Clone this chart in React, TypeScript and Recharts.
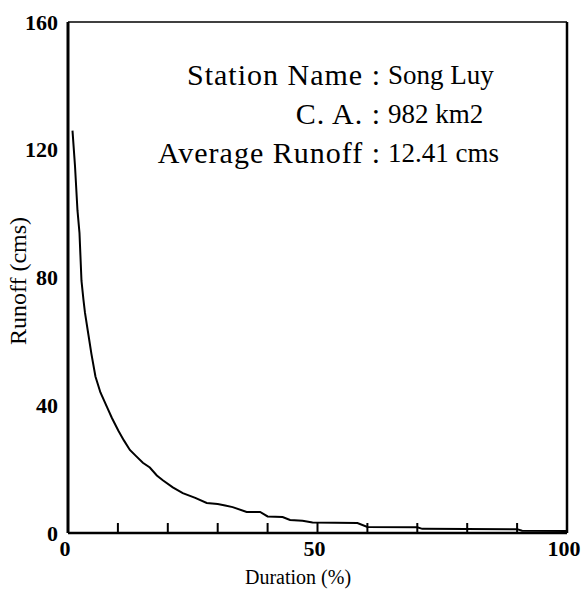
import { LineChart, Line, XAxis, YAxis, ReferenceLine } from "recharts";

// flow duration curve
const durationPct = [
  0.9, 1.4, 1.9, 2.3, 2.7, 3.1, 3.4, 4.1, 4.7, 5.5, 6.5, 7.8, 8.8, 10.1, 11.2, 12.4, 13.7, 15,
  16.4, 17.8, 19, 21, 23, 25.5, 27.8, 30, 31.5, 33, 35.8, 38.5, 40, 43, 44.5, 47, 49, 58, 60, 70,
  71, 90, 91, 100,
];
const runoffCms = [
  126, 115, 101, 94, 79, 73, 69, 62, 56, 49, 44, 39.5, 36, 32, 29, 26, 24, 22, 20.5, 18, 16.5,
  14.3, 12.5, 11, 9.4, 9.1, 8.6, 8.1, 6.6, 6.6, 5.2, 5, 4.1, 3.8, 3.3, 3.1, 1.9, 1.8, 1.3, 1.2,
  0.7, 0.6,
];

const xTicks = [0, 10, 20, 30, 40, 50, 60, 70, 80, 90, 100];
const xTickLabels = [0, 50, 100];
const yTicks = [0, 40, 80, 120, 160];

const infoLabels = ["Station Name :", "C. A. :", "Average Runoff :"];
const infoValues = ["Song Luy", "982 km2", "12.41 cms"];

const FONT = "'Liberation Serif', 'Times New Roman', serif";

function XTick(props: any) {
  const { x, y, payload } = props;
  const v = payload.value;
  return (
    <g>
      {v > 0 && v < 100 && (
        <line x1={x} x2={x} y1={y} y2={y - 10} stroke="#000" strokeWidth={2} />
      )}
      {xTickLabels.includes(v) && (
        <text
          x={x - 3}
          y={y + 15}
          textAnchor="middle"
          dominantBaseline="central"
          fontFamily={FONT}
          fontSize={22}
          fontWeight="bold"
          fill="#000"
        >
          {v}
        </text>
      )}
    </g>
  );
}

function YTick(props: any) {
  const { x, y, payload } = props;
  return (
    <text
      x={x - 10}
      y={y}
      textAnchor="end"
      dominantBaseline="central"
      fontFamily={FONT}
      fontSize={22}
      fontWeight="bold"
      fill="#000"
    >
      {payload.value}
    </text>
  );
}

export default function App() {
  const data = durationPct.map((d, i) => ({ duration: d, runoff: runoffCms[i] }));

  return (
    <div
      style={{
        position: "absolute",
        left: 0,
        top: 0,
        width: 585,
        height: 594,
        background: "#fff",
        fontFamily: FONT,
        color: "#000",
      }}
    >
      <LineChart width={585} height={594} data={data} margin={{ top: 22, right: 18, bottom: 0, left: 0 }}>
        <XAxis
          type="number"
          dataKey="duration"
          domain={[0, 100]}
          ticks={xTicks}
          interval={0}
          tickSize={0}
          tickMargin={0}
          tickLine={false}
          tick={<XTick />}
          height={61}
          axisLine={{ stroke: "#000", strokeWidth: 2.5 }}
        />
        <YAxis
          type="number"
          domain={[0, 160]}
          ticks={yTicks}
          interval={0}
          tickSize={0}
          tickMargin={0}
          tickLine={false}
          tick={<YTick />}
          width={68}
          axisLine={{ stroke: "#000", strokeWidth: 3 }}
        />
        <ReferenceLine y={160} stroke="#000" strokeWidth={1.5} />
        <ReferenceLine x={100} stroke="#000" strokeWidth={2.5} />
        <Line
          type="linear"
          dataKey="runoff"
          stroke="#000"
          strokeWidth={2}
          dot={false}
          isAnimationActive={false}
        />
      </LineChart>

      {infoLabels.map((label, i) => (
        <div key={label}>
          <div
            style={{
              position: "absolute",
              right: 585 - 381,
              top: 60 + i * 39,
              fontSize: 30,
              letterSpacing: 1,
              lineHeight: "30px",
              whiteSpace: "nowrap",
            }}
          >
            {label}
          </div>
          <div
            style={{
              position: "absolute",
              left: 388,
              top: 61 + i * 39,
              fontSize: 27,
              lineHeight: "28px",
              whiteSpace: "nowrap",
            }}
          >
            {infoValues[i]}
          </div>
        </div>
      ))}

      <div
        style={{
          position: "absolute",
          left: 18,
          top: 281,
          transform: "translate(-50%, -50%) rotate(-90deg)",
          fontSize: 24,
          whiteSpace: "nowrap",
        }}
      >
        Runoff (cms)
      </div>
      <div
        style={{
          position: "absolute",
          left: 298,
          top: 577,
          transform: "translate(-50%, -50%)",
          fontSize: 20,
          whiteSpace: "nowrap",
        }}
      >
        Duration (%)
      </div>
    </div>
  );
}
